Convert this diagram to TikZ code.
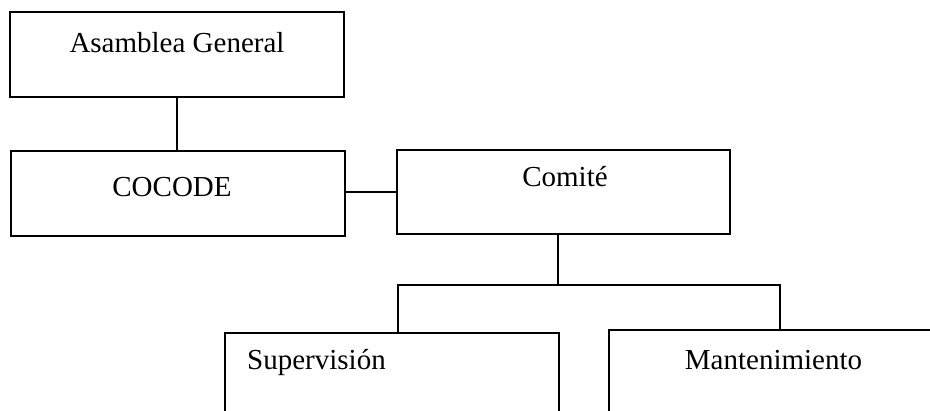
\documentclass[tikz,border=0pt]{standalone}
\usepackage{fontspec}
\setmainfont{Liberation Serif}
\begin{document}
\begin{tikzpicture}[x=1pt,y=1pt,
  box/.style={draw=black, line width=2.9pt, rectangle, inner sep=0pt},
  lbl/.style={font=\fontsize{29}{34}\selectfont, inner sep=0pt},
  conn/.style={draw=black, line width=2.9pt}]
\clip (0,0) rectangle (930,411);
\fill[white] (0,0) rectangle (930,411);
% boxes
\node[box, minimum width=334pt, minimum height=85pt] (A) at (177,356.5) {};
\node[box, minimum width=334pt, minimum height=85pt] (B) at (178,217.5) {};
\node[box, minimum width=333pt, minimum height=84pt] (C) at (563.5,219) {};
\node[box, minimum width=334pt, minimum height=140pt] (D) at (392,8) {};
\node[box, minimum width=400pt, minimum height=140pt] (E) at (809,11) {};
% labels
\node[lbl, anchor=base] (tA) at (177,358) {Asamblea General};
\node[lbl, anchor=base] (tB) at (172,214) {COCODE};
\node[lbl, anchor=base] (tC) at (565,224) {Comité};
\node[lbl, anchor=base west] (tD) at (247,41) {Supervisión};
\node[lbl, anchor=base] (tE) at (773.5,41) {Mantenimiento};
% connectors
\coordinate (br) at (558,126);
\coordinate (bl) at (398,126);
\coordinate (brr) at (780,126);
\draw[conn] (A.south) -- (A.south |- B.north);
\draw[conn] (B.east |- C.west) -- (C.west);
\draw[conn] (C.south -| br) -- (br);
\draw[conn, line cap=rect] (bl) -- (brr);
\draw[conn] (bl) -- (bl |- D.north);
\draw[conn] (brr) -- (brr |- E.north);
\end{tikzpicture}
\end{document}
